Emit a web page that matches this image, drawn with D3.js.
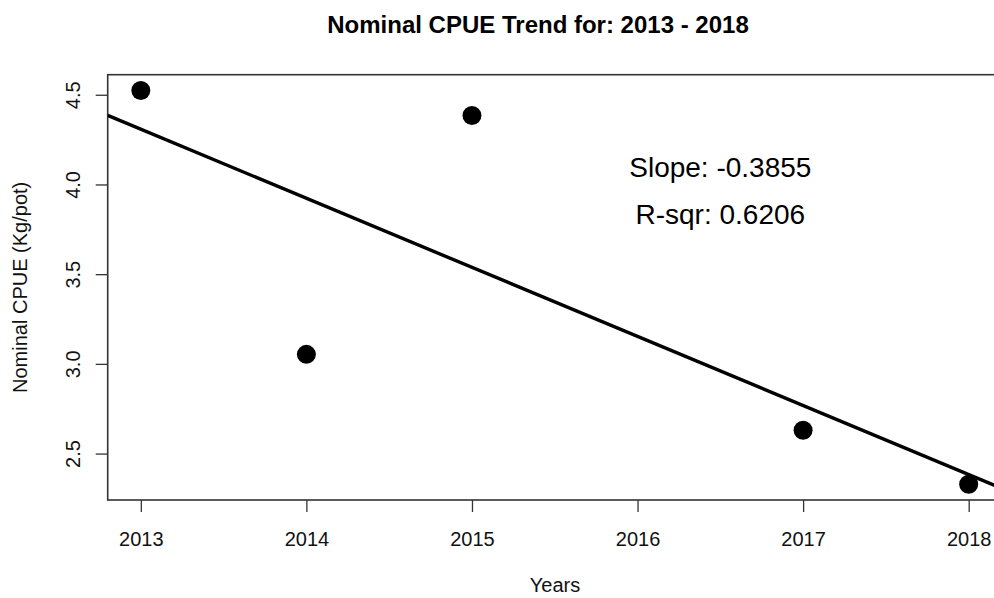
<!DOCTYPE html>
<html>
<head>
<meta charset="utf-8">
<script src="https://cdn.jsdelivr.net/npm/d3@7"></script>
<style>
    body { margin: 0; background: #fff; }
    svg { display: block; font-family: Arial, 'Liberation Sans', sans-serif; }
</style>
</head>
<body>
<svg></svg>
<script>
// data
const years = [2013, 2014, 2015, 2017, 2018];
const cpue = [4.524, 3.053, 4.384, 2.63, 2.329];
const xTicks = [2013, 2014, 2015, 2016, 2017, 2018];
const yTicks = [2.5, 3.0, 3.5, 4.0, 4.5];
const statText = ['Slope: -0.3855', 'R-sqr: 0.6206'];
const labelX = [2016.5, 2016.5];
const labelY = [4.1, 3.835];

const canvasW = 994;
const canvasH = 598;
var plot = { left: 107.7, right: 1001.8, top: 74.7, bottom: 500 };

const svg = d3.select('svg').attr('width', canvasW).attr('height', canvasH);

// ---------------------------------------------------------
// Least squares fit (as abline(lm(...)))
var mx = d3.mean(years), my = d3.mean(cpue);
var sxy = d3.sum(years, (d, i) => (d - mx) * (cpue[i] - my));
var sxx = d3.sum(years, (d) => (d - mx) * (d - mx));
var slope = sxy / sxx;
var intercept = my - slope * mx;

// ---------------------------------------------------------
// Scales with R style 4% padding
var xr = d3.max(years) - d3.min(years);
var yr = d3.max(cpue) - d3.min(cpue);
var xScale = d3
    .scaleLinear()
    .domain([d3.min(years) - 0.04 * xr, d3.max(years) + 0.04 * xr])
    .range([plot.left, plot.right]);
var yScale = d3
    .scaleLinear()
    .domain([d3.min(cpue) - 0.04 * yr, d3.max(cpue) + 0.04 * yr])
    .range([plot.bottom, plot.top]);

svg.append('clipPath')
    .attr('id', 'clip')
    .append('rect')
    .attr('x', plot.left)
    .attr('y', plot.top)
    .attr('width', plot.right - plot.left)
    .attr('height', plot.bottom - plot.top);

// ---------------------------------------------------------
// Axes
var xAxis = d3
    .axisBottom(xScale)
    .tickValues(xTicks)
    .tickFormat(d3.format('d'))
    .tickSize(12)
    .tickPadding(20)
    .tickSizeOuter(0);
var yAxis = d3
    .axisLeft(yScale)
    .tickValues(yTicks)
    .tickFormat(d3.format('.1f'))
    .tickSize(12)
    .tickSizeOuter(0);

var gx = svg
    .append('g')
    .attr('transform', 'translate(0,' + plot.bottom + ')')
    .call(xAxis);
gx.select('.domain').remove();
gx.selectAll('.tick line').attr('stroke', '#333').attr('stroke-width', 1.3);
gx.selectAll('.tick text')
    .attr('font-size', 20)
    .attr('font-family', 'Arial, Liberation Sans, sans-serif')
    .attr('fill', '#111');

var gy = svg
    .append('g')
    .attr('transform', 'translate(' + plot.left + ',0)')
    .call(yAxis);
gy.select('.domain').remove();
gy.selectAll('.tick line').attr('stroke', '#333').attr('stroke-width', 1.3);
gy.selectAll('.tick text')
    .attr('font-size', 20)
    .attr('font-family', 'Arial, Liberation Sans, sans-serif')
    .attr('fill', '#111')
    .attr('text-anchor', 'middle')
    .attr('dy', 0)
    .attr('x', 0)
    .attr('transform', 'translate(-28,0) rotate(-90)');

// plot box
svg.append('rect')
    .attr('x', plot.left)
    .attr('y', plot.top)
    .attr('width', plot.right - plot.left)
    .attr('height', plot.bottom - plot.top)
    .attr('fill', 'none')
    .attr('stroke', '#333')
    .attr('stroke-width', 1.6);

// ---------------------------------------------------------
// Regression line
var xd = xScale.domain();
svg.append('line')
    .attr('clip-path', 'url(#clip)')
    .attr('x1', xScale(xd[0]))
    .attr('y1', yScale(intercept + slope * xd[0]))
    .attr('x2', xScale(xd[1]))
    .attr('y2', yScale(intercept + slope * xd[1]))
    .attr('stroke', '#000')
    .attr('stroke-width', 3.4);

// ---------------------------------------------------------
// Points
svg.selectAll('circle.dot')
    .data(years)
    .enter()
    .append('circle')
    .attr('class', 'dot')
    .attr('cx', (d) => xScale(d))
    .attr('cy', (d, i) => yScale(cpue[i]))
    .attr('r', 9.5)
    .attr('fill', '#000');

// ---------------------------------------------------------
// Labels
svg.selectAll('text.stat')
    .data(statText)
    .enter()
    .append('text')
    .attr('class', 'stat')
    .text((d) => d)
    .attr('x', (d, i) => xScale(labelX[i]))
    .attr('y', (d, i) => yScale(labelY[i]))
    .attr('dy', '0.36em')
    .attr('text-anchor', 'middle')
    .attr('font-size', 28)
    .attr('fill', '#000');

svg.append('text')
    .text('Nominal CPUE Trend for: 2013 - 2018')
    .attr('x', 538)
    .attr('y', 33)
    .attr('text-anchor', 'middle')
    .attr('font-size', 24)
    .attr('font-weight', 'bold')
    .attr('fill', '#000');

svg.append('text')
    .text('Years')
    .attr('x', 555)
    .attr('y', 592)
    .attr('text-anchor', 'middle')
    .attr('font-size', 20)
    .attr('fill', '#111');

svg.append('text')
    .text('Nominal CPUE (Kg/pot)')
    .attr('transform', 'translate(27,' + (plot.top + plot.bottom) / 2 + ') rotate(-90)')
    .attr('text-anchor', 'middle')
    .attr('font-size', 20)
    .attr('fill', '#111');
</script>
</body>
</html>
